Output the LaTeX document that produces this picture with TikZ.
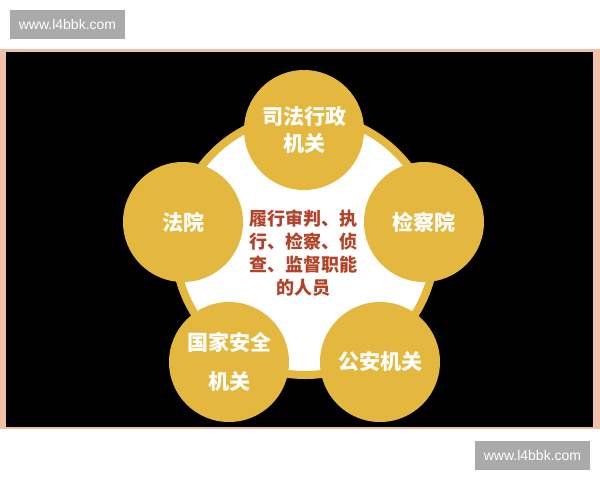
\documentclass[tikz,border=0pt]{standalone}
\usepackage{fontspec}
\setmainfont{Liberation Sans}
\newfontfamily\cjk{Noto Sans CJK SC}

\definecolor{gold}{RGB}{228,184,62}
\definecolor{peach}{RGB}{242,192,168}
\definecolor{rust}{RGB}{178,66,40}
\definecolor{markgray}{RGB}{170,170,170}

\begin{document}
\begin{tikzpicture}[x=1pt,y=-1pt,
  organ/.style={circle,fill=gold,minimum size=120pt,inner sep=0pt,
    text=white,align=center,font=\cjk\bfseries\fontsize{21}{27}\selectfont},
  duty/.style={text=rust,align=center,font=\cjk\bfseries\fontsize{18}{23}\selectfont},
  wmark/.style={fill=markgray,text=white,minimum width=115pt,minimum height=29pt,
    inner sep=0pt,font=\fontsize{14}{16}\selectfont}]

\useasboundingbox (0,0) rectangle (600,480);

% 背景
\fill[white] (0,0) rectangle (600,480);
\fill[peach] (0,49) rectangle (600,429);
\fill[black] (6,52) rectangle (593,427);

% 水印
\node[wmark] (wmtop) at (67.5,24.5) {www.l4bbk.com};
\node[wmark] (wmbot) at (532.5,455.5) {www.l4bbk.com};

% 中心圆
\draw[gold,line width=8pt,fill=white] (305,245) circle (130pt);

% 中心文字
\node[duty] (duty) at (303,253) {履行审判、执\\行、检察、侦\\查、监督职能\\的人员};

% 五个机关
\node[organ] (admin) at (304,130) {司法行政\\机关};
\node[organ] (court) at (183,222) {法院};
\node[organ] (procur) at (424,222) {检察院};
\node[organ] (security) at (229,362) {国家安全\\[12pt]机关};
\node[organ] (police) at (380,362) {公安机关};

\end{tikzpicture}
\end{document}
